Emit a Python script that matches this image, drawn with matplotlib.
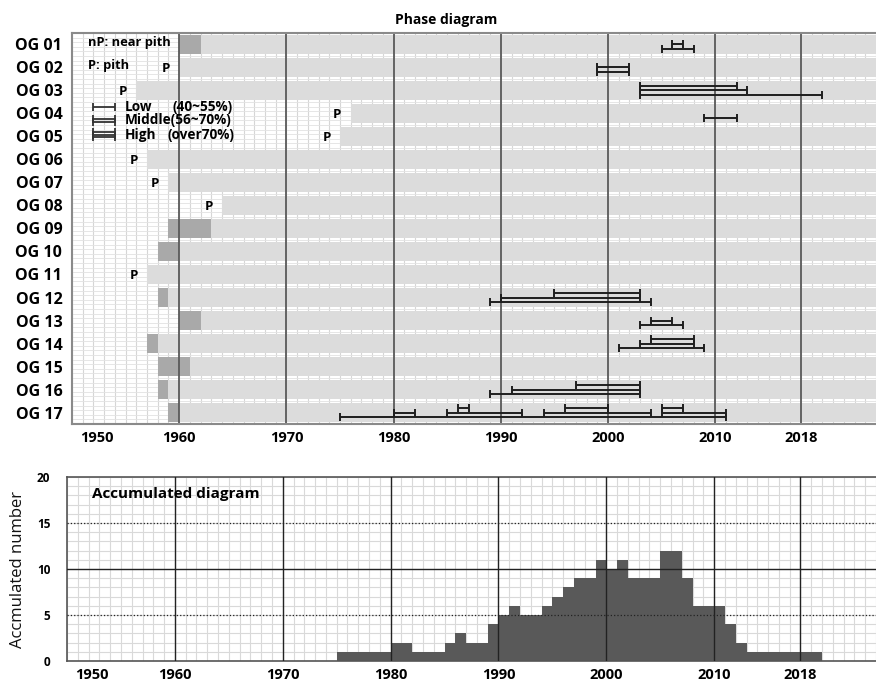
import numpy as np
import matplotlib.pyplot as plt

plt.rcParams['font.family'] = ['Open Sans', 'DejaVu Sans']

# ---- phase diagram data ----
groups = ['OG %02d' % i for i in range(1, 18)]
start_year = [1960, 1960, 1956, 1976, 1975, 1957, 1959, 1964, 1959,
              1958, 1957, 1958, 1960, 1957, 1958, 1958, 1959]
near_pith_end = [1962, None, None, None, None, None, None, None, 1963,
                 1960, None, 1959, 1962, 1958, 1961, 1959, 1960]
has_pith = [False, True, True, True, True, True, True, True, False,
            False, True, False, False, False, False, False, False]

# suppression periods: row, first year, last year, stacking level
period_row = [1, 1, 2, 2, 3, 3, 3, 4, 12, 12, 12, 13, 13, 14, 14, 14,
              16, 16, 16, 17, 17, 17, 17, 17, 17, 17, 17]
period_start = [2005, 2006, 1999, 1999, 2003, 2003, 2003, 2009, 1989, 1990, 1995,
                2003, 2004, 2001, 2003, 2004, 1989, 1991, 1997,
                1975, 1980, 1985, 1994, 2005, 1986, 1996, 2005]
period_end = [2008, 2007, 2002, 2002, 2020, 2013, 2012, 2012, 2004, 2003, 2003,
              2007, 2006, 2009, 2008, 2008, 2003, 2003, 2003,
              2011, 1982, 1992, 2004, 2011, 1987, 2000, 2007]
period_level = [0, 1, 0, 1, 0, 1, 2, 0, 0, 1, 2, 0, 1, 0, 1, 2, 0, 1, 2,
                0, 1, 1, 1, 1, 2, 2, 2]

# ---- accumulated diagram data ----
acc_years = list(range(1975, 2020))
acc_count = [1, 1, 1, 1, 1, 2, 2, 1, 1, 1, 2, 3, 2, 2, 4, 5, 6, 5, 5, 6,
             7, 8, 9, 9, 11, 10, 11, 9, 9, 9, 12, 12, 9, 6, 6, 6, 4, 2,
             1, 1, 1, 1, 1, 1, 1]

major_years = [1960, 1970, 1980, 1990, 2000, 2010, 2018]
tick_years = [1950, 1960, 1970, 1980, 1990, 2000, 2010, 2018]
x_min, x_max = 1950, 2025

fig = plt.figure(figsize=(8.76, 6.83), dpi=100)

# ================= Phase diagram =================
ax = fig.add_axes([0.0822, 0.3792, 0.9178, 0.5725])
ax.set_xlim(x_min, x_max)
ax.set_ylim(17.5, 0.5)

for yr in range(x_min, x_max + 1):
    ax.axvline(yr, color='#d6d6d6', lw=0.8, zorder=0)
for yy in np.arange(0.5, 17.5, 0.2):
    ax.axhline(yy, color='#e2e2e2', lw=0.6, zorder=0)

rows = np.arange(1, 18)
for r, s, npe, p in zip(rows, start_year, near_pith_end, has_pith):
    if npe is not None:
        ax.barh(r, npe - s, left=s, height=0.84, color='#a9a9a9', zorder=1)
        ax.barh(r, x_max + 1 - npe, left=npe, height=0.84, color='#dcdcdc', zorder=1)
    else:
        ax.barh(r, x_max + 1 - s, left=s, height=0.84, color='#dcdcdc', zorder=1)
    if p:
        ax.text(s - 1.25, r + 0.05, 'P', ha='center', va='center',
                fontsize=9.5, fontweight='bold', zorder=4)

for yr in major_years:
    ax.axvline(yr, color='#5a5a5a', lw=1.3, zorder=2)

level_off = [0.19, 0.0, -0.19]
for r, s, e, lv in zip(period_row, period_start, period_end, period_level):
    ax.errorbar((s + e) / 2, r + level_off[lv], xerr=(e - s) / 2, fmt='none',
                ecolor='#1e1e1e', elinewidth=1.4, capsize=3, capthick=1.4, zorder=5)

# legend text / symbols
ax.text(1951.5, 0.92, 'nP: near pith', fontsize=9.3, fontweight='bold',
        va='center', zorder=4)
ax.text(1951.5, 1.92, 'P: pith', fontsize=9.3, fontweight='bold',
        va='center', zorder=4)
leg_y = [3.72, 4.3, 4.92]
leg_lines = [[0.0], [-0.07, 0.07], [-0.1, 0.0, 0.1]]
for y0, offs in zip(leg_y, leg_lines):
    for o in offs:
        ax.errorbar(1953.0, y0 + o, xerr=1.05, fmt='none', ecolor='#333333',
                    elinewidth=1.3, capsize=3, capthick=1.3, zorder=5)
ax.text(1954.9, leg_y[0], 'Low', fontsize=9.8, fontweight='bold', va='center')
ax.text(1959.4, leg_y[0], '(40~55%)', fontsize=9.8, fontweight='bold', va='center')
ax.text(1954.9, leg_y[1], 'Middle(56~70%)', fontsize=9.8, fontweight='bold', va='center')
ax.text(1954.9, leg_y[2], 'High', fontsize=9.8, fontweight='bold', va='center')
ax.text(1958.9, leg_y[2], '(over70%)', fontsize=9.8, fontweight='bold', va='center')

ax.set_yticks(rows)
ax.set_yticklabels(groups, fontsize=11.5, fontweight='bold')
label_pos = [t + 2.3 if t == 1950 else t for t in tick_years]
ax.set_xticks(label_pos)
ax.set_xticklabels([str(t) for t in tick_years], fontsize=10.5, fontweight='bold')
ax.tick_params(length=0, pad=7)
ax.tick_params(axis='x', pad=5)
for side in ['left', 'top', 'bottom']:
    ax.spines[side].set_color('#8a8a8a')
    ax.spines[side].set_linewidth(1.5)
ax.spines['right'].set_visible(False)
fig.text(0.509, 0.971, 'Phase diagram', ha='center', va='center',
         fontsize=10, fontweight='bold')

# ================= Accumulated diagram =================
bx = fig.add_axes([0.0765, 0.0322, 0.9235, 0.2694])
bx.set_xlim(x_min, x_max)
bx.set_ylim(0, 20)
for yr in range(x_min, x_max + 1):
    bx.axvline(yr, color='#d9d9d9', lw=0.8, zorder=0)
for yy in range(0, 21):
    bx.axhline(yy, color='#d9d9d9', lw=0.8, zorder=0)

bx.bar(acc_years, acc_count, width=1.0, align='edge', color='#595959', zorder=2)

for yr in major_years:
    bx.axvline(yr, color='#222222', lw=1.0, zorder=3)
bx.axhline(10, color='#222222', lw=1.0, zorder=3)
bx.axhline(5, color='#222222', lw=0.9, ls=':', zorder=3)
bx.axhline(15, color='#222222', lw=0.9, ls=':', zorder=3)

bx.text(1952.3, 18.1, 'Accumulated diagram', fontsize=11, fontweight='bold',
        va='center', zorder=4)
bx.set_yticks([0, 5, 10, 15, 20])
bx.set_yticklabels(['0', '5', '10', '15', '20'], fontsize=8.5, fontweight='bold')
bx.set_xticks(label_pos)
bx.set_xticklabels([str(t) for t in tick_years], fontsize=10.5, fontweight='bold')
bx.tick_params(length=0)
bx.tick_params(axis='y', pad=12)
bx.tick_params(axis='x', pad=5)
bx.set_ylabel('Accmulated number', fontsize=12, color='#111111')
bx.yaxis.set_label_coords(-0.051, 0.5)
for side in ['left', 'top', 'bottom']:
    bx.spines[side].set_color('#555555')
    bx.spines[side].set_linewidth(1.2)
bx.spines['right'].set_visible(False)

fig.savefig('out.png', dpi=100)
